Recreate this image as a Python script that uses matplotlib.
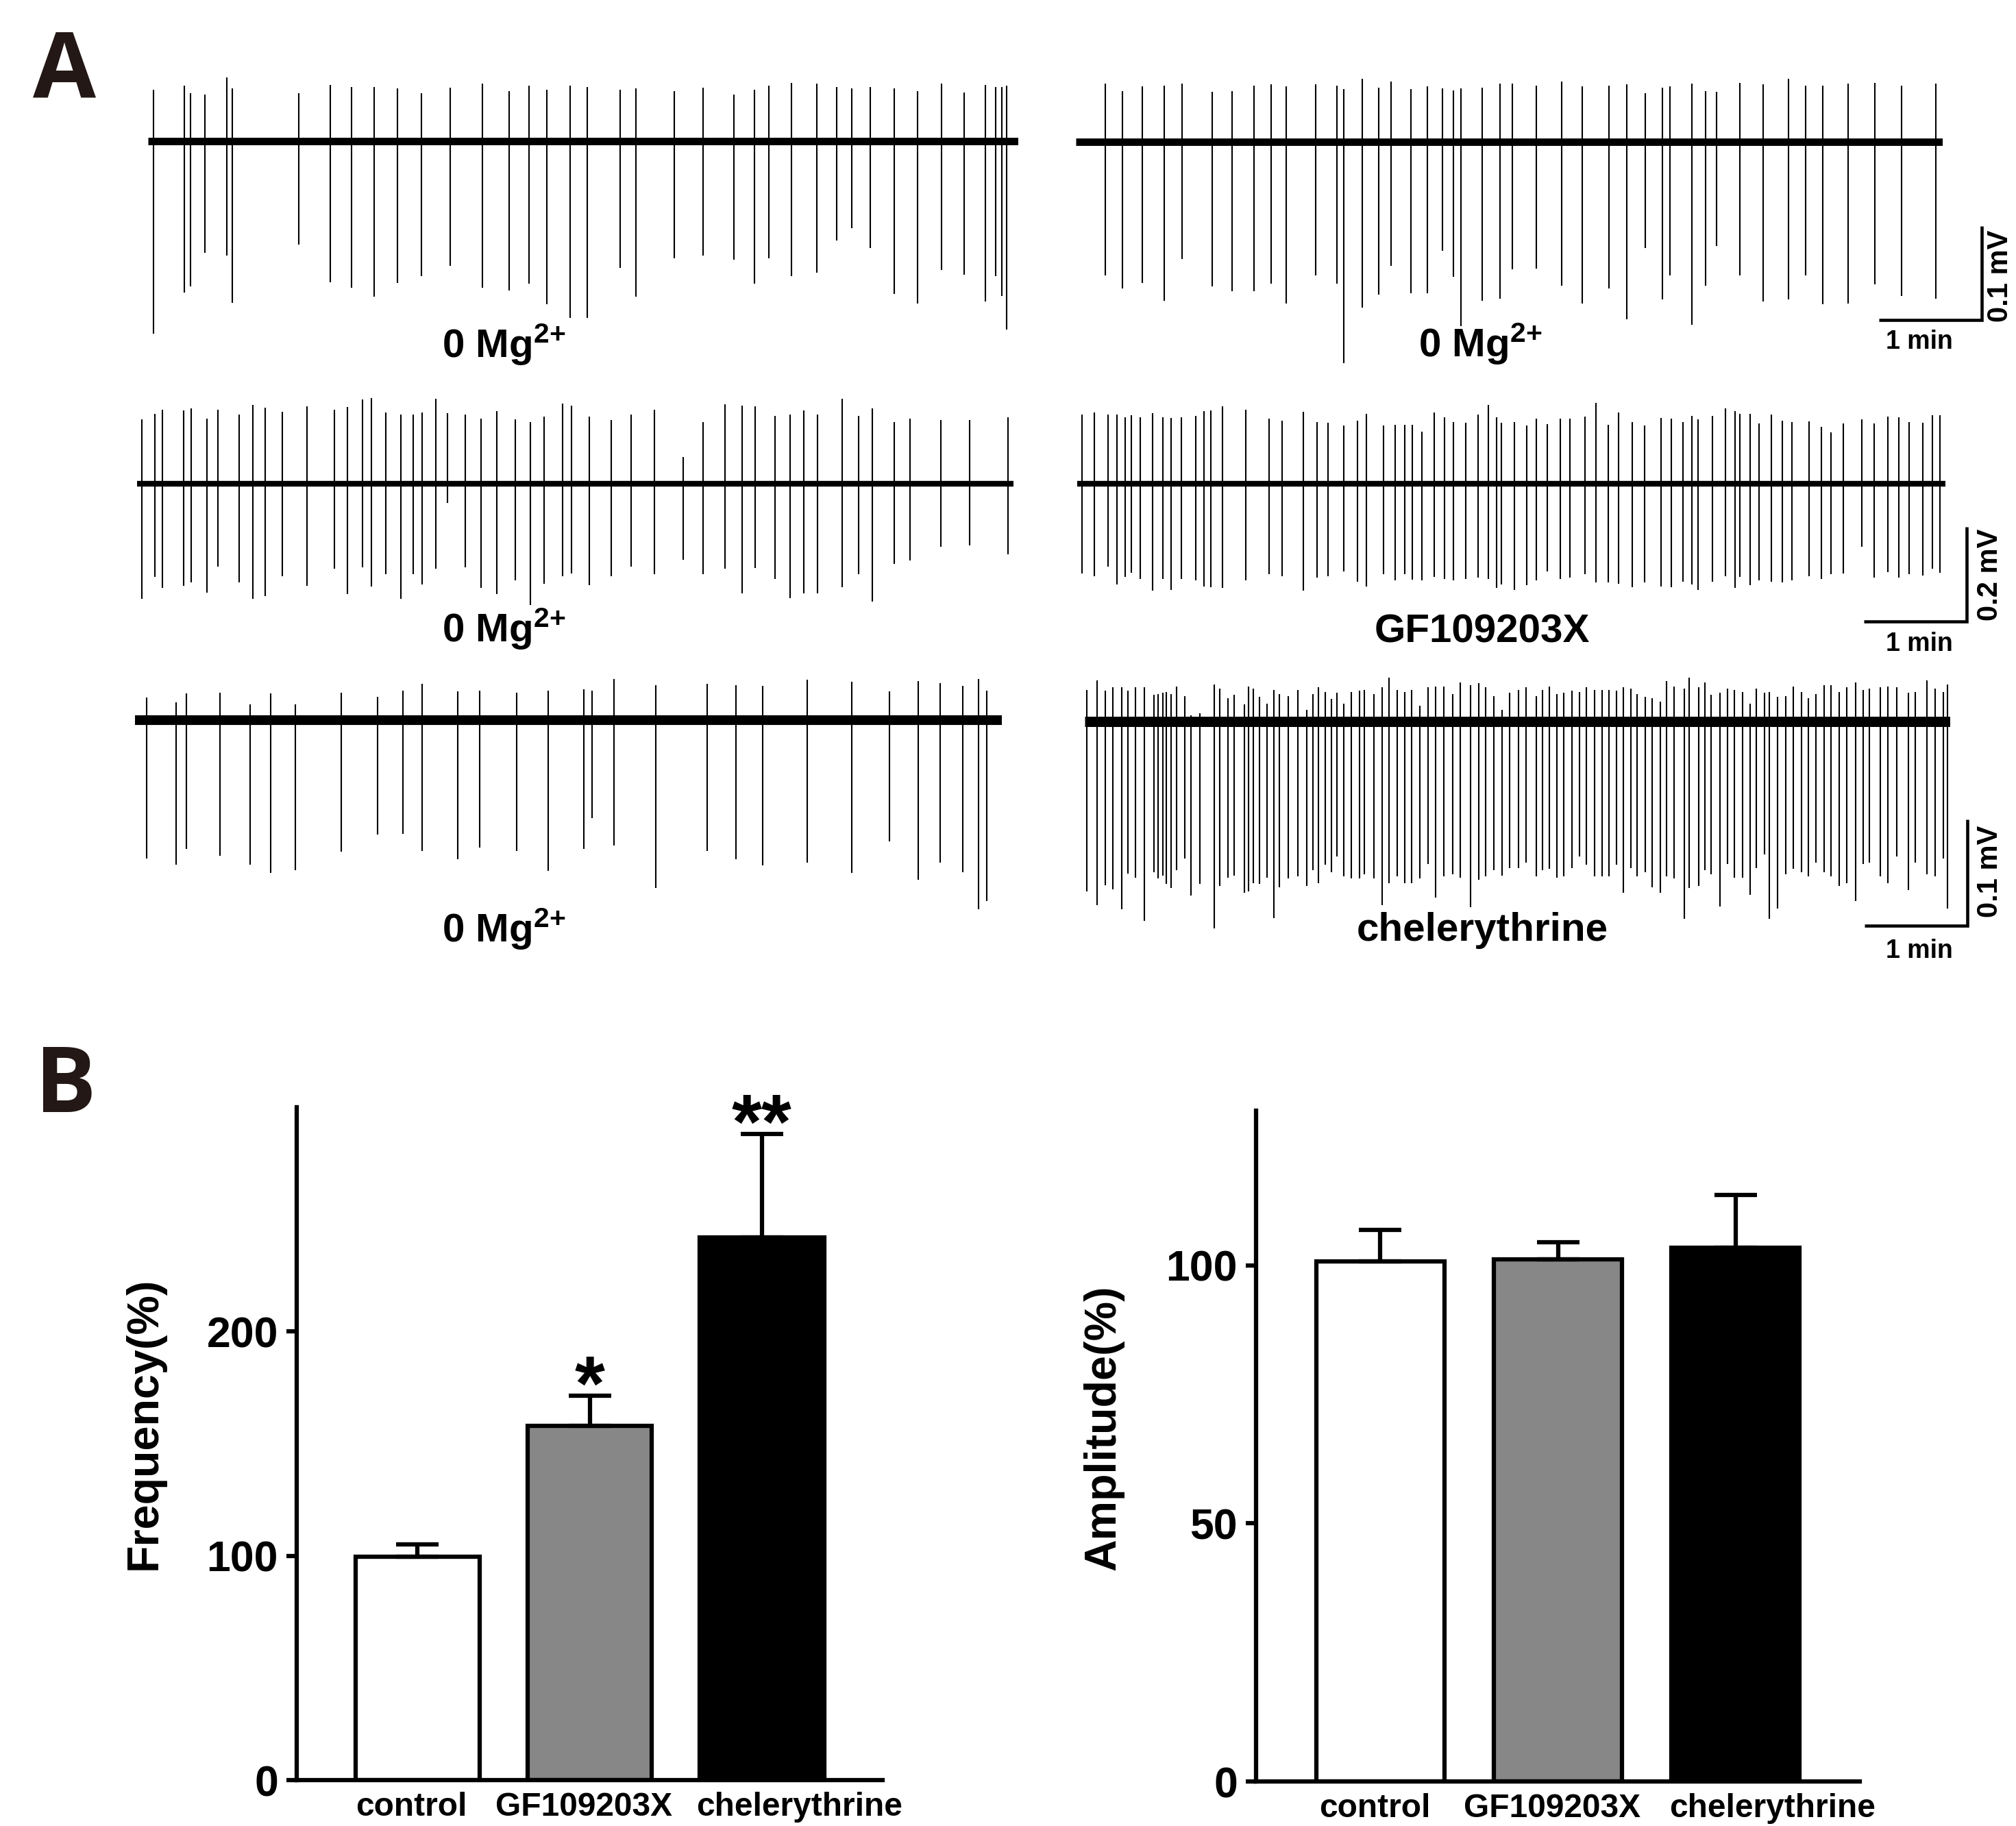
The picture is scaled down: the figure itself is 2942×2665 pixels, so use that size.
import matplotlib
matplotlib.use("Agg")
import matplotlib.pyplot as plt
import numpy as np
from matplotlib.transforms import ScaledTranslation

# ---------------- data ----------------
# Row 1 left: 0 Mg2+  (time in min, upward / downward spike amplitude in mV)
r1l_t = [0.054, 0.350, 0.412, 0.555, 0.765, 0.822, 1.464, 1.771, 1.981, 2.203, 2.425, 2.658, 2.942,
         3.254, 3.510, 3.709, 3.880, 4.107, 4.272, 4.590, 4.749, 5.119, 5.403, 5.698, 5.903, 6.040,
         6.261, 6.506, 6.699, 6.847, 7.029, 7.262, 7.489, 7.722, 7.938, 8.148, 8.245, 8.307, 8.353]
r1l_up = [0.055, 0.059, 0.051, 0.050, 0.068, 0.056, 0.051, 0.060, 0.058, 0.058, 0.056, 0.051, 0.057,
          0.061, 0.053, 0.059, 0.055, 0.059, 0.058, 0.055, 0.056, 0.053, 0.057, 0.050, 0.055, 0.059,
          0.062, 0.061, 0.058, 0.056, 0.058, 0.056, 0.053, 0.061, 0.052, 0.060, 0.058, 0.058, 0.059]
r1l_dn = [0.205, 0.161, 0.155, 0.119, 0.122, 0.172, 0.110, 0.150, 0.156, 0.166, 0.151, 0.144, 0.133,
          0.156, 0.159, 0.152, 0.174, 0.188, 0.188, 0.135, 0.166, 0.125, 0.122, 0.126, 0.152, 0.125,
          0.144, 0.140, 0.106, 0.093, 0.114, 0.163, 0.173, 0.137, 0.142, 0.171, 0.144, 0.165, 0.201]

# Row 1 right: 0 Mg2+
r1r_t = [0.285, 0.452, 0.648, 0.857, 1.035, 1.327, 1.517, 1.731, 1.898, 2.046, 2.332, 2.540, 2.606,
         2.784, 2.945, 3.064, 3.260, 3.421, 3.569, 3.676, 3.748, 3.956, 4.128, 4.248, 4.480, 4.729,
         4.926, 5.187, 5.360, 5.538, 5.705, 5.782, 5.996, 6.127, 6.234, 6.461, 6.687, 6.931, 7.097,
         7.264, 7.514, 7.770, 8.031, 8.364]
r1r_up = [0.062, 0.054, 0.059, 0.060, 0.062, 0.053, 0.054, 0.060, 0.061, 0.059, 0.061, 0.060, 0.056,
          0.067, 0.058, 0.064, 0.056, 0.059, 0.057, 0.055, 0.057, 0.058, 0.062, 0.062, 0.060, 0.064,
          0.059, 0.060, 0.061, 0.052, 0.058, 0.059, 0.062, 0.054, 0.053, 0.063, 0.061, 0.067, 0.060,
          0.060, 0.062, 0.063, 0.060, 0.062]
r1r_dn = [0.142, 0.156, 0.150, 0.169, 0.125, 0.154, 0.159, 0.159, 0.151, 0.172, 0.142, 0.151, 0.236,
          0.177, 0.163, 0.132, 0.161, 0.161, 0.116, 0.144, 0.196, 0.169, 0.167, 0.136, 0.135, 0.153,
          0.172, 0.156, 0.189, 0.113, 0.168, 0.142, 0.195, 0.153, 0.111, 0.142, 0.170, 0.168, 0.142,
          0.173, 0.172, 0.152, 0.164, 0.167]

# Row 2 left: 0 Mg2+
r2l_t = [0.047, 0.172, 0.246, 0.451, 0.524, 0.678, 0.786, 0.996, 1.127, 1.246, 1.411, 1.656, 1.923,
         2.048, 2.190, 2.281, 2.423, 2.565, 2.684, 2.775, 2.906, 3.020, 3.190, 3.344, 3.497, 3.679,
         3.827, 3.958, 4.140, 4.225, 4.401, 4.611, 4.805, 5.032, 5.316, 5.504, 5.720, 5.885, 6.015,
         6.209, 6.356, 6.487, 6.618, 6.857, 7.021, 7.152, 7.368, 7.521, 7.817, 8.101, 8.476]
r2l_up = [0.136, 0.148, 0.156, 0.155, 0.159, 0.137, 0.156, 0.147, 0.167, 0.161, 0.152, 0.164, 0.156,
          0.163, 0.178, 0.181, 0.150, 0.147, 0.147, 0.150, 0.179, 0.149, 0.147, 0.138, 0.153, 0.136,
          0.131, 0.142, 0.170, 0.165, 0.142, 0.135, 0.147, 0.156, 0.057, 0.130, 0.168, 0.165, 0.164,
          0.144, 0.147, 0.155, 0.147, 0.179, 0.143, 0.159, 0.130, 0.137, 0.135, 0.135, 0.141]
r2l_dn = [0.243, 0.197, 0.220, 0.216, 0.209, 0.230, 0.175, 0.209, 0.243, 0.238, 0.195, 0.216, 0.179,
          0.233, 0.177, 0.218, 0.191, 0.244, 0.191, 0.213, 0.180, 0.040, 0.177, 0.221, 0.233, 0.204,
          0.257, 0.212, 0.195, 0.190, 0.214, 0.195, 0.175, 0.192, 0.161, 0.191, 0.180, 0.232, 0.178,
          0.201, 0.242, 0.232, 0.232, 0.219, 0.191, 0.250, 0.170, 0.163, 0.133, 0.130, 0.150]

# Row 2 right: GF109203X
r2r_t = [0.044, 0.169, 0.299, 0.389, 0.466, 0.526, 0.615, 0.734, 0.835, 0.912, 1.013, 1.150, 1.233,
         1.299, 1.412, 1.638, 1.864, 1.995, 2.203, 2.334, 2.441, 2.590, 2.727, 2.810, 2.977, 3.095,
         3.185, 3.262, 3.351, 3.470, 3.571, 3.661, 3.780, 3.898, 4.000, 4.077, 4.125, 4.255, 4.374,
         4.464, 4.571, 4.702, 4.791, 4.940, 5.047, 5.166, 5.267, 5.398, 5.517, 5.683, 5.778, 5.891,
         5.981, 6.040, 6.177, 6.308, 6.397, 6.445, 6.546, 6.635, 6.754, 6.861, 6.950, 7.123, 7.242,
         7.331, 7.456, 7.635, 7.754, 7.884, 7.991, 8.093, 8.229, 8.319, 8.396]
r2r_up = [0.146, 0.150, 0.147, 0.147, 0.141, 0.145, 0.141, 0.149, 0.140, 0.139, 0.140, 0.143, 0.154,
          0.155, 0.164, 0.156, 0.138, 0.133, 0.152, 0.131, 0.129, 0.123, 0.134, 0.148, 0.123, 0.125,
          0.124, 0.124, 0.110, 0.150, 0.141, 0.131, 0.129, 0.146, 0.166, 0.140, 0.129, 0.130, 0.123,
          0.138, 0.126, 0.138, 0.137, 0.142, 0.171, 0.125, 0.150, 0.131, 0.123, 0.139, 0.137, 0.131,
          0.144, 0.136, 0.143, 0.159, 0.153, 0.148, 0.148, 0.128, 0.146, 0.134, 0.130, 0.132, 0.120,
          0.109, 0.128, 0.136, 0.128, 0.142, 0.140, 0.131, 0.129, 0.145, 0.145]
r2r_dn = [0.190, 0.196, 0.175, 0.213, 0.197, 0.189, 0.202, 0.226, 0.202, 0.225, 0.202, 0.205, 0.217,
          0.219, 0.221, 0.204, 0.192, 0.196, 0.226, 0.199, 0.196, 0.185, 0.207, 0.218, 0.192, 0.204,
          0.192, 0.203, 0.205, 0.197, 0.202, 0.204, 0.202, 0.199, 0.202, 0.220, 0.213, 0.225, 0.214,
          0.204, 0.186, 0.201, 0.198, 0.192, 0.209, 0.209, 0.211, 0.219, 0.209, 0.218, 0.219, 0.207,
          0.213, 0.224, 0.207, 0.196, 0.221, 0.197, 0.214, 0.204, 0.207, 0.209, 0.204, 0.196, 0.202,
          0.192, 0.190, 0.134, 0.199, 0.187, 0.199, 0.192, 0.194, 0.180, 0.189]

# Row 3 left: 0 Mg2+
r3l_t = [0.113, 0.397, 0.499, 0.829, 1.119, 1.323, 1.562, 2.005, 2.358, 2.608, 2.795, 3.142, 3.352,
         3.710, 4.017, 4.364, 4.449, 4.660, 5.069, 5.564, 5.847, 6.109, 6.541, 6.973, 7.337, 7.621,
         7.831, 8.053, 8.206, 8.286]
r3l_up = [0.021, 0.017, 0.025, 0.026, 0.015, 0.025, 0.015, 0.026, 0.022, 0.028, 0.034, 0.027, 0.028,
          0.026, 0.028, 0.029, 0.028, 0.039, 0.033, 0.034, 0.033, 0.032, 0.038, 0.036, 0.027, 0.037,
          0.035, 0.032, 0.039, 0.028]
r3l_dn = [0.130, 0.136, 0.121, 0.128, 0.136, 0.144, 0.141, 0.124, 0.108, 0.107, 0.123, 0.131, 0.120,
          0.123, 0.142, 0.121, 0.092, 0.118, 0.158, 0.123, 0.131, 0.137, 0.134, 0.144, 0.114, 0.150,
          0.134, 0.143, 0.178, 0.170]

# Row 3 right: chelerythrine
r3r_t = [0.02, 0.12, 0.20, 0.27, 0.36, 0.42, 0.49, 0.58, 0.67, 0.71, 0.76, 0.79, 0.84, 0.89, 0.97,
         1.03, 1.12, 1.26, 1.31, 1.39, 1.45, 1.55, 1.59, 1.64, 1.70, 1.77, 1.84, 1.89, 1.98, 2.07,
         2.16, 2.22, 2.27, 2.34, 2.40, 2.45, 2.52, 2.59, 2.67, 2.72, 2.81, 2.89, 2.96, 3.04, 3.11,
         3.18, 3.26, 3.34, 3.41, 3.49, 3.58, 3.65, 3.75, 3.83, 3.90, 3.98, 4.06, 4.13, 4.22, 4.29,
         4.39, 4.45, 4.52, 4.59, 4.66, 4.74, 4.81, 4.88, 4.96, 5.03, 5.10, 5.17, 5.24, 5.31, 5.37,
         5.45, 5.52, 5.60, 5.66, 5.73, 5.83, 5.88, 5.97, 6.03, 6.09, 6.18, 6.25, 6.32, 6.40, 6.47,
         6.53, 6.61, 6.66, 6.74, 6.82, 6.89, 6.97, 7.04, 7.11, 7.19, 7.26, 7.34, 7.41, 7.50, 7.57,
         7.63, 7.74, 7.81, 7.90, 8.01, 8.08, 8.19, 8.27, 8.35, 8.39]
r3r_up = [0.030, 0.039, 0.029, 0.032, 0.032, 0.029, 0.032, 0.032, 0.025, 0.026, 0.027, 0.028, 0.026,
          0.033, 0.024, 0.006, 0.008, 0.035, 0.031, 0.022, 0.025, 0.016, 0.033, 0.031, 0.023, 0.017,
          0.030, 0.026, 0.024, 0.030, 0.011, 0.026, 0.032, 0.028, 0.021, 0.027, 0.017, 0.028, 0.029,
          0.030, 0.026, 0.032, 0.041, 0.030, 0.028, 0.030, 0.015, 0.032, 0.033, 0.033, 0.026, 0.037,
          0.034, 0.036, 0.032, 0.024, 0.011, 0.027, 0.030, 0.032, 0.024, 0.030, 0.033, 0.026, 0.027,
          0.029, 0.028, 0.032, 0.030, 0.030, 0.030, 0.029, 0.032, 0.031, 0.026, 0.023, 0.022, 0.019,
          0.038, 0.033, 0.031, 0.041, 0.032, 0.037, 0.025, 0.027, 0.031, 0.030, 0.028, 0.017, 0.031,
          0.027, 0.028, 0.023, 0.024, 0.033, 0.028, 0.022, 0.026, 0.034, 0.034, 0.028, 0.032, 0.037,
          0.030, 0.031, 0.032, 0.033, 0.032, 0.027, 0.028, 0.039, 0.031, 0.028, 0.035]
r3r_dn = [0.160, 0.173, 0.154, 0.158, 0.177, 0.143, 0.147, 0.188, 0.142, 0.148, 0.145, 0.153, 0.157,
          0.140, 0.129, 0.164, 0.153, 0.195, 0.155, 0.147, 0.145, 0.161, 0.160, 0.152, 0.153, 0.147,
          0.185, 0.156, 0.148, 0.146, 0.155, 0.140, 0.152, 0.135, 0.142, 0.127, 0.146, 0.148, 0.148,
          0.144, 0.148, 0.173, 0.152, 0.146, 0.152, 0.152, 0.148, 0.134, 0.166, 0.146, 0.144, 0.147,
          0.175, 0.149, 0.146, 0.140, 0.145, 0.138, 0.138, 0.133, 0.146, 0.140, 0.139, 0.147, 0.146,
          0.138, 0.127, 0.135, 0.146, 0.146, 0.146, 0.135, 0.161, 0.138, 0.146, 0.142, 0.156, 0.161,
          0.146, 0.148, 0.186, 0.157, 0.155, 0.140, 0.144, 0.174, 0.134, 0.147, 0.147, 0.163, 0.138,
          0.125, 0.186, 0.176, 0.144, 0.139, 0.142, 0.146, 0.133, 0.142, 0.146, 0.155, 0.152, 0.169,
          0.134, 0.133, 0.146, 0.152, 0.127, 0.159, 0.133, 0.144, 0.146, 0.129, 0.176]

# labels in order: row1 L, row1 R, row2 L, row2 R, row3 L, row3 R
trace_labels = ["0 Mg$^{2{+}}$", "0 Mg$^{2{+}}$", "0 Mg$^{2{+}}$", "GF109203X", "0 Mg$^{2{+}}$",
                "chelerythrine"]
scale_amps = [0.1, 0.2, 0.1]          # mV
scale_texts = ["0.1 mV", "0.2 mV", "0.1 mV"]

groups = ["control", "GF109203X", "chelerythrine"]
freq_mean = [99.5, 158, 242]
freq_sem = [5.5, 13.5, 46]
amp_mean = [100.8, 101.2, 103.5]
amp_sem = [6.1, 3.3, 10.2]
bar_colors = ["white", "#878787", "black"]
freq_stars = ["", "*", "**"]

# ---------------- figure ----------------
plt.rcParams["font.family"] = ["Liberation Sans", "DejaVu Sans"]
plt.rcParams["mathtext.fontset"] = "custom"
plt.rcParams["mathtext.rm"] = "Liberation Sans:bold"
plt.rcParams["mathtext.it"] = "Liberation Sans:bold"
plt.rcParams["mathtext.bf"] = "Liberation Sans:bold"

W, H, DPI = 2942, 2665, 300
fig = plt.figure(figsize=(W / DPI, H / DPI), dpi=DPI)
fig.patch.set_facecolor("white")

PX_PER_MIN = 150.0


def fx(px):
    return px / W


def fy(py):
    return 1 - py / H


def trace(x0, x1, base, ppm, t, up, dn, lw_base, up_lim=0.3, dn_lim=0.35):
    dur = (x1 - x0) / PX_PER_MIN
    ax = fig.add_axes([fx(x0), fy(base + dn_lim * ppm), (x1 - x0) / W, (up_lim + dn_lim) * ppm / H])
    ax.set_xlim(0, dur)
    ax.set_ylim(-dn_lim, up_lim)
    ax.axis("off")
    ax.patch.set_visible(False)
    ax.plot([0, dur], [0, 0], color="black", lw=lw_base, solid_capstyle="butt")
    ax.vlines(np.array(t), -np.array(dn), np.array(up), color="black", lw=0.5)
    return ax, dur


def scale_bar(ax, t_end, y_bot, amp):
    ax.plot([t_end - 1.0, t_end, t_end], [y_bot, y_bot, y_bot + amp], color="black", lw=1.1,
            solid_joinstyle="miter", solid_capstyle="butt", clip_on=False)


# Row 1
ax, _ = trace(216, 1486, 206, 1370, r1l_t, r1l_up, r1l_dn, 2.6)
ax, _ = trace(1570, 2835, 207, 1370, r1r_t, r1r_up, r1r_dn, 2.6)
scale_bar(ax, (2892 - 1570) / PX_PER_MIN, -(467 - 207) / 1370, scale_amps[0])
# Row 2
ax, _ = trace(200, 1479, 706, 690, r2l_t, r2l_up, r2l_dn, 2.0)
ax, _ = trace(1572, 2839, 706, 690, r2r_t, r2r_up, r2r_dn, 2.0)
scale_bar(ax, (2870 - 1572) / PX_PER_MIN, -(907 - 706) / 690, scale_amps[1])
# Row 3
ax, _ = trace(197, 1462, 1051, 1550, r3l_t, r3l_up, r3l_dn, 3.4)
ax, _ = trace(1583, 2846, 1053, 1550, r3r_t, r3r_up, r3r_dn, 3.6)
scale_bar(ax, (2871 - 1583) / PX_PER_MIN, -(1351 - 1053) / 1550, scale_amps[2])

# trace labels
label_pos = [(735, 522), (2160, 521), (735, 937), (2163, 938), (735, 1375), (2163, 1373)]
for (lx, ly), lab in zip(label_pos, trace_labels):
    fig.text(fx(lx), fy(ly), lab, ha="center", va="baseline", fontsize=14, fontweight="bold")

# scale texts
for (mx, my), (vx, vy), s in zip([(2801, 499), (2801, 940), (2801, 1388)],
                                 [(2919, 403), (2904, 839), (2904, 1272)], scale_texts):
    fig.text(fx(mx), fy(my), "1 min", ha="center", va="center", fontsize=9, fontweight="bold")
    fig.text(fx(vx), fy(vy), s, ha="center", va="center", rotation=90, fontsize=10, fontweight="bold")

# panel letters
fig.text(fx(48), fy(143), "A", fontsize=32, fontweight="bold", family=["Open Sans", "DejaVu Sans"],
         color="#231815", ha="left", va="baseline")
fig.text(fx(51), fy(1623), "B", fontsize=32, fontweight="bold", family=["Open Sans", "DejaVu Sans"],
         color="#231815", ha="left", va="baseline")


# ---------------- bar charts ----------------
def bar_panel(rect, means, sems, ymax, yticks, ylabel, lab_xy, stars=None):
    ax = fig.add_axes(rect)
    x = np.arange(len(groups))
    ax.bar(x, means, width=0.72, color=bar_colors, edgecolor="black", linewidth=1.5, zorder=2)
    ax.errorbar(x, means, yerr=[np.zeros(len(x)), sems], fmt="none", ecolor="black", elinewidth=1.5,
                capsize=7.5, capthick=1.5, zorder=3)
    ax.set_xlim(-0.70, 2.70)
    ax.set_ylim(0, ymax)
    for s in ["top", "right"]:
        ax.spines[s].set_visible(False)
    for s in ["left", "bottom"]:
        ax.spines[s].set_linewidth(1.5)
    ax.set_yticks(yticks)
    ax.set_yticklabels([str(v) for v in yticks], fontsize=15, fontweight="bold")
    ax.tick_params(axis="y", length=3.5, width=1.5, pad=3)
    ax.set_xticks(x)
    ax.set_xticklabels(groups, fontsize=11.5, fontweight="bold")
    ax.tick_params(axis="x", length=0, pad=4)
    offs = [-2, -2, 13]
    for lbl, o in zip(ax.get_xticklabels(), offs):
        lbl.set_transform(lbl.get_transform() + ScaledTranslation(o / 72, 0, fig.dpi_scale_trans))
    ax.set_ylabel(ylabel, fontsize=15.5, fontweight="bold", va="center")
    ax.yaxis.set_label_coords(*lab_xy)
    if stars:
        for xi, m, e, s in zip(x, means, sems, stars):
            if s:
                ax.annotate(s, xy=(xi, m + e), xytext=(0, -5), textcoords="offset points",
                            ha="center", va="baseline", fontsize=27, fontweight="bold")
    return ax


bar_panel([fx(433), fy(2598), (1288 - 433) / W, (2598 - 1616) / H], freq_mean, freq_sem, 300,
          [0, 100, 200], "Frequency(%)", (-0.26, 0.53), freq_stars)
bar_panel([fx(1833), fy(2600), (2714 - 1833) / W, (2600 - 1621) / H], amp_mean, amp_sem, 130,
          [0, 50, 100], "Amplitude(%)", (-0.253, 0.527))

fig.savefig("out.png", dpi=DPI, facecolor="white")
